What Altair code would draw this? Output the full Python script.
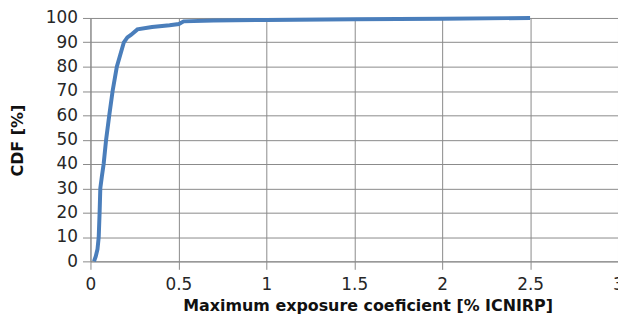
import altair as alt
import pandas as pd

x_vals = [0.02, 0.03, 0.04, 0.047, 0.052, 0.056, 0.065, 0.075, 0.089, 0.107, 0.126,
          0.15, 0.17, 0.19, 0.21, 0.23, 0.267, 0.35, 0.45, 0.503, 0.53, 0.7, 1.0,
          1.5, 2.0, 2.5]
cdf_vals = [0, 2, 5, 10, 20, 30, 35, 40, 50, 60, 70, 80, 85, 90, 92, 93, 95.3,
            96.3, 97, 97.5, 98.6, 99, 99.2, 99.5, 99.7, 100]

df = pd.DataFrame({"x": x_vals, "cdf": cdf_vals})

FONT = "DejaVu Sans"
GRID = "#8a8a8a"
TEXT = "#262626"

chart = alt.Chart(df).mark_line(color="#4a7ebb", strokeWidth=4, clip=False).encode(
    x=alt.X("x:Q", scale=alt.Scale(domain=[0, 3], nice=False),
            axis=alt.Axis(title="Maximum exposure coeficient [% ICNIRP]",
                          values=[0, 0.5, 1, 1.5, 2, 2.5, 3], format="~g",
                          titleX=279, titleY=44, titleAnchor="middle",
                          titleBaseline="middle", titleAlign="center")),
    y=alt.Y("cdf:Q", scale=alt.Scale(domain=[0, 100], nice=False),
            axis=alt.Axis(title="CDF [%]", values=list(range(0, 101, 10)),
                          titleX=-73, titleY=123, titleBaseline="middle",
                          titleAlign="center", titleAngle=270)),
    order="x:Q",
).properties(
    width=531, height=245,
    autosize=alt.AutoSizeParams(type="none"),
    padding={"left": 83, "top": 9, "right": 0, "bottom": 59},
).configure_view(stroke=None).configure_axis(
    grid=True, gridColor=GRID, gridWidth=1, gridOpacity=1,
    domainColor=GRID, domainWidth=1, tickColor=GRID, tickSize=8, tickWidth=1,
    labelFont=FONT, labelFontSize=17, labelColor=TEXT,
    titleFont=FONT, titleFontSize=16, titleFontWeight="bold", titleColor="#111",
).configure_axisX(labelPadding=7, labelFlush=False).configure_axisY(
    labelPadding=5,
)

chart.save("out.html", embed_options={"renderer": "svg", "actions": False})
